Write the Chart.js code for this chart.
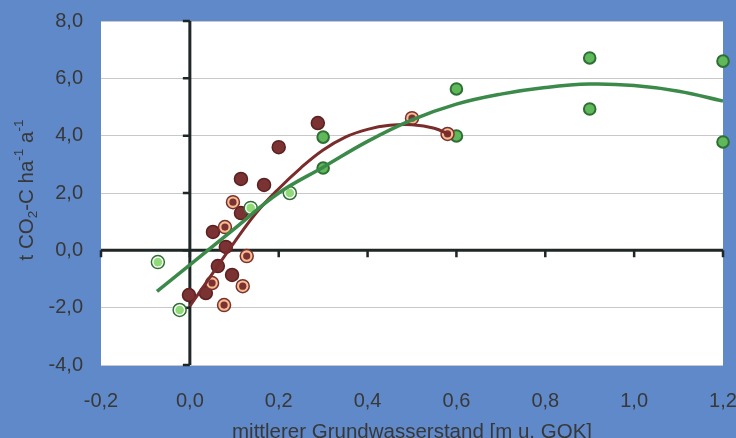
<!DOCTYPE html>
<html>
<head>
<meta charset="utf-8">
<script src="https://cdn.jsdelivr.net/npm/chart.js@4.4.1/dist/chart.umd.min.js"></script>
<style>
html,body{margin:0;padding:0;background:#5f89c9;}
#wrap{width:736px;height:438px;position:relative;}
</style>
</head>
<body>
<div id="wrap"><canvas id="c" width="736" height="438"></canvas></div>
<script>
// Data
const brownX = [0.288, 0.200, 0.115, 0.167, 0.115, 0.052, 0.081, 0.063, 0.095, -0.002, 0.036];
const brownY = [4.44, 3.60, 2.49, 2.28, 1.30, 0.64, 0.12, -0.55, -0.86, -1.56, -1.49];

const ringX = [0.097, 0.079, 0.128, 0.050, 0.119, 0.077, 0.50, 0.58];
const ringY = [1.68, 0.81, -0.20, -1.14, -1.25, -1.91, 4.61, 4.06];

const greenX = [0.30, 0.30, 0.60, 0.60, 0.90, 0.90, 1.2, 1.2];
const greenY = [3.95, 2.87, 5.63, 3.99, 6.71, 4.93, 6.6, 3.78];

const lightX = [-0.072, -0.023, 0.137, 0.225];
const lightY = [-0.41, -2.08, 1.48, 2.00];

// trend curves
const brownTrendX = [0.0, 0.05, 0.1, 0.15, 0.2, 0.25, 0.3, 0.35, 0.4, 0.45, 0.5, 0.55, 0.585];
const brownTrendY = [-1.95, -0.83, 0.28, 1.32, 2.15, 2.88, 3.5, 3.95, 4.22, 4.36, 4.38, 4.26, 4.03];

const greenTrendX = [-0.074, 0.0, 0.1, 0.2, 0.3, 0.4, 0.5, 0.6, 0.7, 0.8, 0.9, 1.0, 1.1, 1.2];
const greenTrendY = [-1.43, -0.51, 0.75, 2.0, 2.9, 3.8, 4.55, 5.1, 5.45, 5.68, 5.8, 5.75, 5.55, 5.21];

const xTicks = [-0.2, 0.0, 0.2, 0.4, 0.6, 0.8, 1.0, 1.2];
const yTicks = [-4, -2, 0, 2, 4, 6, 8];

const xTitle = "mittlerer Grundwasserstand [m u. GOK]";

const pts = (xs, ys) => xs.map((x, i) => ({x: x, y: ys[i]}));

const BG = '#5f89c9';
const FONT = '"Liberation Sans", Arial, sans-serif';
const TXT = '#383838';

const bgPlugin = {
  id: 'bg',
  beforeDraw(chart) {
    const ctx = chart.ctx, a = chart.chartArea;
    ctx.save();
    ctx.fillStyle = BG;
    ctx.fillRect(0, 0, chart.width, chart.height);
    ctx.fillStyle = '#ffffff';
    ctx.fillRect(a.left, a.top, a.right - a.left, a.bottom - a.top);
    ctx.restore();
  }
};

const axesPlugin = {
  id: 'zeroAxes',
  beforeDatasetsDraw(chart) {
    const ctx = chart.ctx, a = chart.chartArea;
    const xs = chart.scales.x, ys = chart.scales.y;
    const x0 = xs.getPixelForValue(0), y0 = ys.getPixelForValue(0);
    ctx.save();
    ctx.strokeStyle = '#1f2626';
    ctx.lineWidth = 3;
    ctx.lineCap = 'butt';
    ctx.beginPath();
    ctx.moveTo(x0, a.top); ctx.lineTo(x0, a.bottom);
    ctx.moveTo(a.left, y0); ctx.lineTo(a.right, y0);
    ctx.stroke();
    ctx.lineWidth = 2.5;
    ctx.beginPath();
    yTicks.forEach(v => {
      const y = ys.getPixelForValue(v);
      ctx.moveTo(x0 - 7, y); ctx.lineTo(x0, y);
    });
    xTicks.forEach(v => {
      const x = xs.getPixelForValue(v);
      ctx.moveTo(x, y0); ctx.lineTo(x, y0 + 7);
    });
    ctx.stroke();
    ctx.restore();
  }
};

const titlePlugin = {
  id: 'titles',
  afterDraw(chart) {
    const ctx = chart.ctx, a = chart.chartArea;
    ctx.save();
    ctx.fillStyle = TXT;
    ctx.font = '20.5px ' + FONT;
    ctx.textAlign = 'center';
    ctx.textBaseline = 'middle';
    ctx.fillText(xTitle, (a.left + a.right) / 2, 432);
    // y title with sub/superscripts
    const parts = [
      {t: 't CO', s: 20.5, dy: 0},
      {t: '2', s: 13.5, dy: 6},
      {t: '-C ha', s: 20.5, dy: 0},
      {t: '-1', s: 13.5, dy: -8},
      {t: ' a', s: 20.5, dy: 0},
      {t: '-1', s: 13.5, dy: -8}
    ];
    let total = 0;
    parts.forEach(p => { ctx.font = p.s + 'px ' + FONT; p.w = ctx.measureText(p.t).width; total += p.w; });
    ctx.translate(27, 190);
    ctx.rotate(-Math.PI / 2);
    ctx.textAlign = 'left';
    ctx.textBaseline = 'middle';
    let cx = -total / 2;
    parts.forEach(p => {
      ctx.font = p.s + 'px ' + FONT;
      ctx.fillText(p.t, cx, p.dy);
      cx += p.w;
    });
    ctx.restore();
  }
};

const fmt = v => (Math.round(v * 10) / 10).toFixed(1).replace('.', ',');

new Chart(document.getElementById('c'), {
  type: 'scatter',
  data: {
    datasets: [
      {
        type: 'line', label: 'trend moor', data: pts(brownTrendX, brownTrendY),
        borderColor: '#7a2b2b', borderWidth: 3, pointRadius: 0, tension: 0.4,
        fill: false, order: 1
      },
      {
        type: 'line', label: 'trend gruen', data: pts(greenTrendX, greenTrendY),
        borderColor: '#3b8a4a', borderWidth: 3.5, pointRadius: 0, tension: 0.4,
        fill: false, order: 0
      },
      {
        label: 'braun', data: pts(brownX, brownY),
        backgroundColor: '#7b3232', borderColor: '#5c2020', borderWidth: 1.5,
        pointRadius: 6.5, order: 5
      },
      {
        label: 'ring', data: pts(ringX, ringY),
        backgroundColor: '#f6bd8f', borderColor: '#7a3030', borderWidth: 1.5,
        pointRadius: 6.5, order: 4
      },
      {
        label: 'ring-kern', data: pts(ringX, ringY),
        backgroundColor: '#7b3232', borderColor: '#7b3232', borderWidth: 0,
        pointRadius: 3.6, order: 3
      },
      {
        label: 'gruen', data: pts(greenX, greenY),
        backgroundColor: '#5fb85a', borderColor: '#2f6e35', borderWidth: 2,
        pointRadius: 5.8, order: 4, clip: false
      },
      {
        label: 'hellgruen', data: pts(lightX, lightY),
        backgroundColor: '#ffffff', borderColor: '#2f6e35', borderWidth: 1.5,
        pointRadius: 6.5, order: 4
      },
      {
        label: 'hellgruen-kern', data: pts(lightX, lightY),
        backgroundColor: '#8edb77', borderColor: '#8edb77', borderWidth: 0,
        pointRadius: 4.3, order: 3
      }
    ]
  },
  options: {
    responsive: false,
    animation: false,
    devicePixelRatio: 1,
    layout: {padding: {left: 0, top: 21, right: 13, bottom: 0}},
    plugins: {legend: {display: false}, tooltip: {enabled: false}},
    scales: {
      x: {
        type: 'linear', min: -0.2, max: 1.2,
        afterBuildTicks: s => { s.ticks = xTicks.map(v => ({value: v})); },
        afterFit: s => { s.height = 73; s.paddingLeft = 0; s.paddingRight = 0; },
        grid: {display: false, drawTicks: false},
        border: {display: false},
        ticks: {padding: 24, color: TXT, font: {family: FONT, size: 20}, callback: v => fmt(v), maxRotation: 0}
      },
      y: {
        type: 'linear', min: -4, max: 8,
        afterBuildTicks: s => { s.ticks = yTicks.map(v => ({value: v})); },
        afterFit: s => { s.width = 101; s.paddingTop = 0; s.paddingBottom = 0; },
        grid: {color: '#c8c8c8', lineWidth: 1, drawTicks: false},
        border: {display: false},
        ticks: {padding: 18, color: TXT, font: {family: FONT, size: 20}, callback: v => fmt(v)}
      }
    }
  },
  plugins: [bgPlugin, axesPlugin, titlePlugin]
});
</script>
</body>
</html>
